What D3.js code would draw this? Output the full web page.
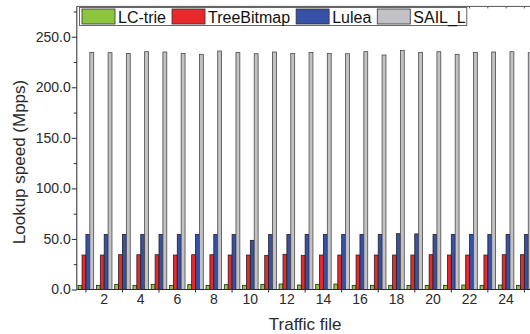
<!DOCTYPE html>
<html>
<head>
<meta charset="utf-8">
<script src="https://cdn.jsdelivr.net/npm/d3@7"></script>
<style>
  body { margin: 0; background: #fff; }
  svg { display: block; font-family: "Liberation Sans", Arial, sans-serif; }
</style>
</head>
<body>
<svg id="chart" width="530" height="334"></svg>
<script>
// traffic files 1..25
var files = d3.range(1, 26);
var seriesNames = ['LC-trie', 'TreeBitmap', 'Lulea', 'SAIL_L'];
var seriesColors = ['#8cc63f', '#e8282b', '#3651a5', '#c2c2c6'];

var lcTrie = [4.1, 4.1, 5.1, 4.1, 5.1, 4.1, 4.8, 4.1, 4.8, 4.1, 5.1, 5.4, 4.4,
    5.1, 5.4, 4.1, 4.1, 4.1, 4.1, 4.1, 4.1, 4.4, 4.1, 4.4, 4.1];
var treeBitmap = [34.1, 34.1, 34.4, 34.4, 34.4, 34.1, 34.4, 34.4, 34.1, 34.1, 33.8, 34.8, 33.8,
    34.1, 34.1, 34.1, 34.1, 34.1, 34.1, 34.4, 34.1, 34.1, 34.1, 34.4, 34.4];
var lulea = [54.5, 54.5, 54.5, 54.5, 54.5, 54.5, 54.5, 54.5, 54.5, 48.6, 54.5, 54.5, 54.5,
    54.5, 54.5, 54.5, 54.5, 55.2, 55.0, 54.5, 54.5, 54.5, 54.5, 54.5, 54.5];
var sailL = [234.5, 234.2, 233.5, 235.2, 234.9, 233.5, 232.6, 235.9, 234.5, 233.2, 234.9, 233.5, 234.5,
    233.5, 233.2, 235.2, 231.9, 236.5, 234.5, 235.2, 232.6, 234.5, 234.9, 235.2, 234.2];

var yMajor = [0, 50, 100, 150, 200, 250];
var yMinor = [25, 75, 125, 175, 225, 275];
var xLabels = [2, 4, 6, 8, 10, 12, 14, 16, 18, 20, 22, 24];

var series = [lcTrie, treeBitmap, lulea, sailL];

var svg = d3.select('#chart');
var plotLeft = 76.8, plotRight = 533.5, plotTop = 6.4, plotBottom = 289.5;
var ink = '#2a2a2a';

var x = d3.scaleBand().domain(files).range([plotLeft, plotRight]).padding(0);
var xInner = d3.scaleBand().domain(d3.range(4)).range([0, x.bandwidth()])
    .paddingInner(0).paddingOuter(0.35);
var y = d3.scaleLinear().domain([0, 280]).range([plotBottom, plotTop]);

/* bars */
var groups = svg.append('g').selectAll('g')
    .data(files)
    .enter().append('g')
    .attr('transform', function (d) { return 'translate(' + x(d) + ',0)'; });

groups.selectAll('rect')
    .data(function (d, i) {
        return series.map(function (s, k) { return { k: k, v: s[i] }; });
    })
    .enter().append('rect')
    .attr('x', function (d) { return xInner(d.k); })
    .attr('y', function (d) { return y(d.v); })
    .attr('width', xInner.bandwidth())
    .attr('height', function (d) { return plotBottom - y(d.v); })
    .attr('fill', function (d) { return seriesColors[d.k]; })
    .attr('stroke', function (d) { return d.k === 3 ? '#4a4a4a' : '#222'; })
    .attr('stroke-width', 0.8);

/* y axis */
var yAxis = d3.axisLeft(y).tickValues(yMajor).tickFormat(d3.format('.1f'))
    .tickSize(5).tickPadding(1);
var gy = svg.append('g').attr('transform', 'translate(' + plotLeft + ',0)').call(yAxis);
gy.select('.domain').remove();
gy.selectAll('line').attr('stroke', ink);
gy.selectAll('text').attr('fill', ink).style('font-size', '14px');

svg.append('g').attr('transform', 'translate(' + plotLeft + ',0)')
    .call(d3.axisLeft(y).tickValues(yMinor).tickSize(3).tickFormat(''))
    .call(function (g) { g.select('.domain').remove(); })
    .selectAll('line').attr('stroke', ink);

/* x axis: labels on even files, small ticks on odd files */
var xAxis = d3.axisBottom(x).tickValues(xLabels).tickSize(0).tickPadding(5);
var gx = svg.append('g').attr('transform', 'translate(0,' + plotBottom + ')').call(xAxis);
gx.select('.domain').remove();
gx.selectAll('text').attr('fill', ink).style('font-size', '14px');

svg.append('g').attr('transform', 'translate(0,' + plotBottom + ')')
    .call(d3.axisBottom(x).tickValues(files.filter(function (d) { return d % 2 === 1; }))
        .tickSize(3).tickFormat(''))
    .call(function (g) { g.select('.domain').remove(); })
    .selectAll('line').attr('stroke', ink);

/* top frame with inward ticks at every file */
svg.append('g').attr('transform', 'translate(0,' + plotTop + ')')
    .call(d3.axisTop(x).tickValues(files).tickSize(-2).tickFormat(''))
    .call(function (g) { g.select('.domain').remove(); })
    .selectAll('line').attr('stroke', '#555');

svg.append('line')
    .attr('x1', plotLeft).attr('x2', plotRight).attr('y1', plotTop).attr('y2', plotTop)
    .attr('stroke', '#555').attr('stroke-width', 1);
svg.append('line')
    .attr('x1', plotLeft).attr('x2', plotLeft).attr('y1', plotTop).attr('y2', plotBottom)
    .attr('stroke', ink).attr('stroke-width', 1);
svg.append('line')
    .attr('x1', plotLeft).attr('x2', plotRight).attr('y1', plotBottom).attr('y2', plotBottom)
    .attr('stroke', ink).attr('stroke-width', 1);

/* axis titles */
svg.append('text')
    .attr('transform', 'translate(25,162) rotate(-90)')
    .attr('text-anchor', 'middle')
    .attr('fill', ink)
    .style('font-size', '17px')
    .text('Lookup speed (Mpps)');

svg.append('text')
    .attr('x', (plotLeft + plotRight) / 2)
    .attr('y', 330)
    .attr('text-anchor', 'middle')
    .attr('fill', ink)
    .style('font-size', '17px')
    .text('Traffic file');

/* legend */
var legend = svg.append('g');
var legendBox = legend.append('rect')
    .attr('x', 79.5).attr('y', 7.5).attr('height', 18)
    .attr('fill', '#fff').attr('stroke', '#666').attr('stroke-width', 1);

var lx = 82;
seriesNames.forEach(function (name, k) {
    legend.append('rect')
        .attr('x', lx).attr('y', 9).attr('width', 33).attr('height', 15)
        .attr('fill', seriesColors[k]).attr('stroke', '#333').attr('stroke-width', 0.8);
    var t = legend.append('text')
        .attr('x', lx + 36).attr('y', 22.5)
        .attr('fill', '#111')
        .style('font-size', '16px')
        .text(name);
    lx += 36 + t.node().getComputedTextLength() + 6;
});
legendBox.attr('width', lx - 6 - 79.5 + 1);
</script>
</body>
</html>
